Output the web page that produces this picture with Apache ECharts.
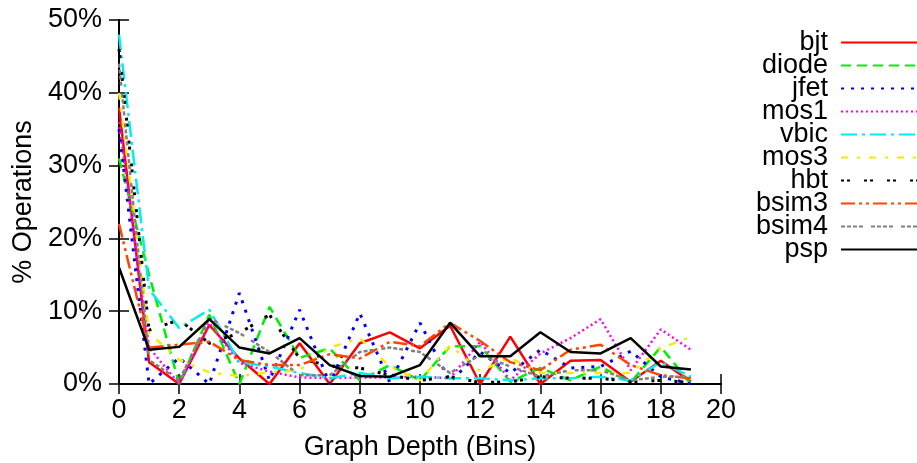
<!DOCTYPE html>
<html>
<head>
<meta charset="utf-8">
<script src="https://cdn.jsdelivr.net/npm/echarts@6/dist/echarts.min.js"></script>
<style>
  html, body { margin: 0; padding: 0; background: #fff; }
  #chart { width: 917px; height: 463px; }
</style>
</head>
<body>
<div id="chart"></div>
<script>
// Share of operations (%) per graph-depth bin 0..19, one array per device model
const bins = [0,1,2,3,4,5,6,7,8,9,10,11,12,13,14,15,16,17,18,19];

const bjt   = [38, 3.0, 0, 8.1, 3.5, 0, 5.6, 0, 5.6, 7.1, 4.9, 8.0, 0, 6.5, 0, 3.2, 3.3, 0.3, 3.2, 0.3];
const diode = [31, 15, 0, 9.5, 0, 10.6, 3.6, 4.9, 0.5, 2.6, 0.5, 5.2, 5.2, 0.3, 2.2, 0.5, 2.4, 0.2, 5.1, 0];
const jfet  = [35, 0, 3.6, 0, 12.5, 0.5, 10.2, 0, 9.7, 0.2, 8.4, 0.3, 4.4, 1.5, 4.7, 2.2, 2.4, 4.5, 1.0, 0];
const mos1  = [36, 5.0, 0, 8.4, 2.9, 1.7, 0.9, 0.8, 0.9, 0.9, 1.0, 0.8, 5.8, 0.5, 4.2, 6.3, 8.9, 1.9, 7.5, 4.7];
const vbic  = [48, 13, 7.7, 10.2, 3.0, 2.4, 1.5, 0.8, 1.5, 0.8, 1.0, 0.8, 0.8, 0.5, 0.8, 0.8, 1.0, 0.5, 3.0, 1.0];
const mos3  = [40, 7.0, 3.3, 1.6, 1.1, 1.6, 1.9, 5.0, 6.3, 2.4, 0.5, 5.3, 1.8, 3.6, 1.5, 1.5, 1.5, 1.5, 4.9, 6.5];
const hbt   = [46, 7.4, 8.8, 5.6, 7.0, 9.5, 3.5, 2.5, 2.2, 1.2, 0.5, 1.0, 0.2, 0.3, 1.0, 0.8, 0.8, 0.3, 0.5, 0.2];
const bsim3 = [22, 5.0, 5.4, 5.8, 3.3, 2.6, 2.6, 4.1, 3.5, 5.8, 5.2, 8.4, 5.9, 3.0, 1.9, 4.7, 5.4, 2.6, 1.2, 0.8];
const bsim4 = [44, 3.3, 0.5, 9.0, 7.0, 4.4, 1.2, 1.2, 4.4, 5.0, 4.4, 1.5, 4.0, 2.4, 1.0, 1.9, 1.9, 0.5, 1.0, 1.0];
const psp   = [16, 4.7, 5.1, 8.9, 5.0, 4.2, 6.3, 2.6, 1.1, 1.0, 2.6, 8.4, 3.8, 3.8, 7.1, 4.4, 4.2, 6.3, 2.4, 2.0];

const xTicks = [0, 2, 4, 6, 8, 10, 12, 14, 16, 18, 20];
const yTicks = [0, 10, 20, 30, 40, 50];

const FONT = 'Liberation Sans, Arial, sans-serif';
const FS = 27;

function series(name, values, color, type, width) {
  return {
    name: name,
    type: 'line',
    data: values.map((v, i) => [bins[i], v]),
    symbol: 'none',
    showSymbol: false,
    silent: true,
    animation: false,
    lineStyle: { color: color, width: width || 2.5, type: type },
    itemStyle: { color: color }
  };
}

const chart = echarts.init(document.getElementById('chart'), null, { renderer: 'canvas' });

const axisCommon = {
  axisLine: { show: true, lineStyle: { color: '#000', width: 2 } },
  axisTick: { show: true, inside: true, length: 10, lineStyle: { color: '#000', width: 1.5 } },
  splitLine: { show: false }
};

chart.setOption({
  animation: false,
  backgroundColor: '#fff',
  grid: { left: 119, right: 196, top: 20, bottom: 79, containLabel: false, outerBoundsMode: 'none' },
  legend: {
    orient: 'vertical',
    right: -10,
    top: 24,
    align: 'right',
    itemWidth: 80,
    itemHeight: 6,
    itemGap: -4,
    itemStyle: { opacity: 0 },
    textStyle: { fontFamily: FONT, fontSize: FS, color: '#000', padding: [0, 8, 0, 0] },
    data: ['bjt','diode','jfet','mos1','vbic','mos3','hbt','bsim3','bsim4','psp']
  },
  xAxis: [
    Object.assign({
      type: 'value', min: xTicks[0], max: xTicks[xTicks.length - 1], interval: 2,
      position: 'bottom',
      name: 'Graph Depth (Bins)', nameLocation: 'middle', nameGap: 50,
      nameTextStyle: { fontFamily: FONT, fontSize: FS, color: '#000' },
      axisLabel: { fontFamily: FONT, fontSize: FS, color: '#000', margin: 13 }
    }, axisCommon),
    Object.assign({
      type: 'value', min: 0, max: 20, interval: 2, position: 'top',
      axisLabel: { show: false }
    }, axisCommon)
  ],
  yAxis: [
    Object.assign({
      type: 'value', min: yTicks[0], max: yTicks[yTicks.length - 1], interval: 10,
      position: 'left',
      name: '% Operations', nameLocation: 'middle', nameGap: 80, nameRotate: 90,
      nameTextStyle: { fontFamily: FONT, fontSize: FS, color: '#000' },
      axisLabel: { fontFamily: FONT, fontSize: FS, color: '#000', margin: 17, formatter: '{value}%' }
    }, axisCommon),
    Object.assign({
      type: 'value', min: 0, max: 50, interval: 10, position: 'right',
      axisLabel: { show: false }
    }, axisCommon)
  ],
  series: [
    series('bjt',   bjt,   '#ff0000', 'solid', 2.5),
    series('diode', diode, '#00ee00', [10, 6], 2.5),
    series('jfet',  jfet,  '#0000ff', [3, 7], 3),
    series('mos1',  mos1,  '#ff00ff', [2, 3], 2.5),
    series('vbic',  vbic,  '#00eeee', [16, 5, 3, 5], 2.5),
    series('mos3',  mos3,  '#eeee00', [7, 9, 3, 9], 2.5),
    series('hbt',   hbt,   '#000000', [3, 3, 3, 14], 3),
    series('bsim3', bsim3, '#ff4500', [14, 4, 3, 4, 3, 4], 2.5),
    series('bsim4', bsim4, '#808080', [4, 2, 4, 2, 4, 2, 4, 8], 2.5),
    series('psp',   psp,   '#000000', 'solid', 2.5)
  ]
});
</script>
</body>
</html>
